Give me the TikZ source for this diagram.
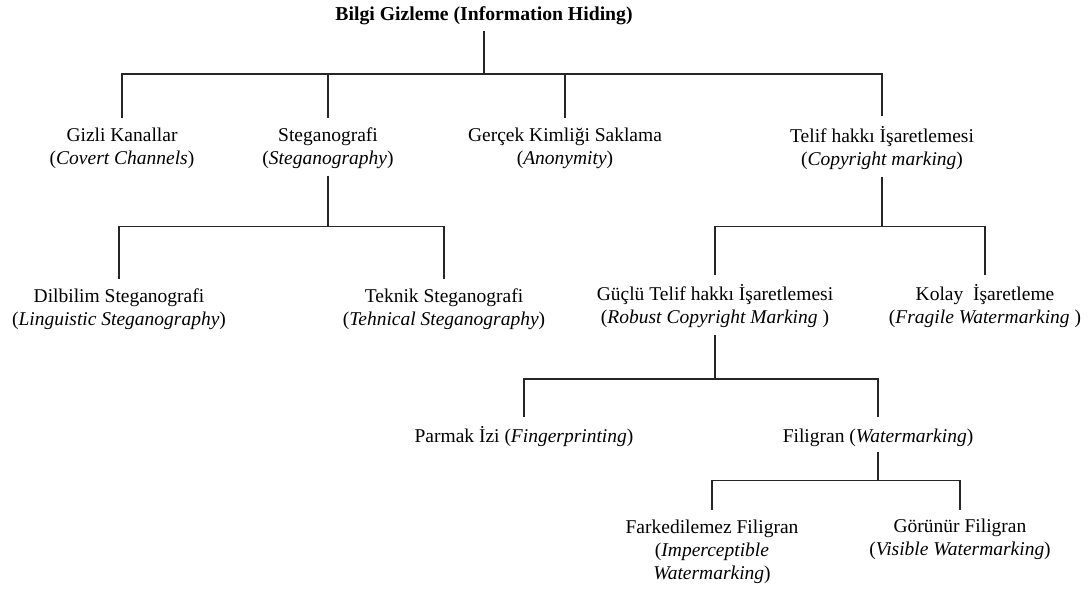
\documentclass[tikz,border=0pt]{standalone}
\usepackage{fontspec}
\setmainfont{Liberation Serif}
\begin{document}
\begin{tikzpicture}[x=1pt,y=-1pt,
  lbl/.style={align=center,inner sep=0pt,font=\fontsize{19.5}{23}\selectfont,
    execute at begin node=\strut, execute at end node=\strut},
  conn/.style={line width=1.3pt,draw=black!85}]
\useasboundingbox[fill=white] (0,0) rectangle (1092,590);
% nodes
\node[lbl,font=\fontsize{19.7}{23}\selectfont\bfseries] (root) at (484,15.4) {Bilgi Gizleme (Information Hiding)};
\node[lbl] (gizli) at (122,149.6) {Gizli Kanallar\\(\textit{Covert Channels})};
\node[lbl] (steg) at (328,149.6) {Steganografi\\(\textit{Steganography})};
\node[lbl] (gercek) at (565,149.6) {Gerçek Kimliği Saklama\\(\textit{Anonymity})};
\node[lbl] (telif) at (882,149.6) {Telif hakkı İşaretlemesi\\(\textit{Copyright marking})};
\node[lbl] (dil) at (119,310.2) {Dilbilim Steganografi\\(\textit{Linguistic Steganography})};
\node[lbl] (tek) at (444,310.2) {Teknik Steganografi\\(\textit{Tehnical Steganography})};
\node[lbl] (guclu) at (715,306.9) {Güçlü Telif hakkı İşaretlemesi\\(\textit{Robust Copyright Marking} )};
\node[lbl] (kolay) at (985,306.9) {Kolay\ \ İşaretleme\\(\textit{Fragile Watermarking} )};
\node[lbl] (parmak) at (524,437.4) {Parmak İzi (\textit{Fingerprinting})};
\node[lbl] (filig) at (878,437.4) {Filigran (\textit{Watermarking})};
\node[lbl] (fark) at (712,553.4) {Farkedilemez Filigran\\(\textit{Imperceptible}\\\textit{Watermarking})};
\node[lbl] (gorunur) at (960,540.2) {Görünür Filigran\\(\textit{Visible Watermarking})};
% bar coordinates
\coordinate (b0) at (484,74);
\coordinate (b1) at (328,226.7);
\coordinate (b2) at (882,226.3);
\coordinate (b3) at (715,379);
\coordinate (b4) at (878,480.5);
% root level
\draw[conn] ([yshift=-4pt]root.south -| b0) -- (b0);
\draw[conn] ([yshift=10pt]gizli.north) |- (b0) -| ([yshift=10pt]telif.north);
\draw[conn] (steg.north |- b0) -- ([yshift=10pt]steg.north);
\draw[conn] (gercek.north |- b0) -- ([yshift=10pt]gercek.north);
% steganografi
\draw[conn] ([yshift=-4pt]steg.south) -- (b1);
\draw[conn] ([yshift=9pt]dil.north) |- (b1) -| ([yshift=9pt]tek.north);
% telif
\draw[conn] ([yshift=-4pt]telif.south) -- (b2);
\draw[conn] ([yshift=9pt]guclu.north) |- (b2) -| ([yshift=9pt]kolay.north);
% guclu
\draw[conn] ([yshift=-5pt]guclu.south) -- (b3);
\draw[conn] ([yshift=9pt]parmak.north) |- (b3) -| ([yshift=9pt]filig.north);
% filigran
\draw[conn] ([yshift=-3pt]filig.south) -- (b4);
\draw[conn] ([yshift=9.6pt]fark.north) |- (b4) -| ([yshift=8pt]gorunur.north);
\end{tikzpicture}
\end{document}
